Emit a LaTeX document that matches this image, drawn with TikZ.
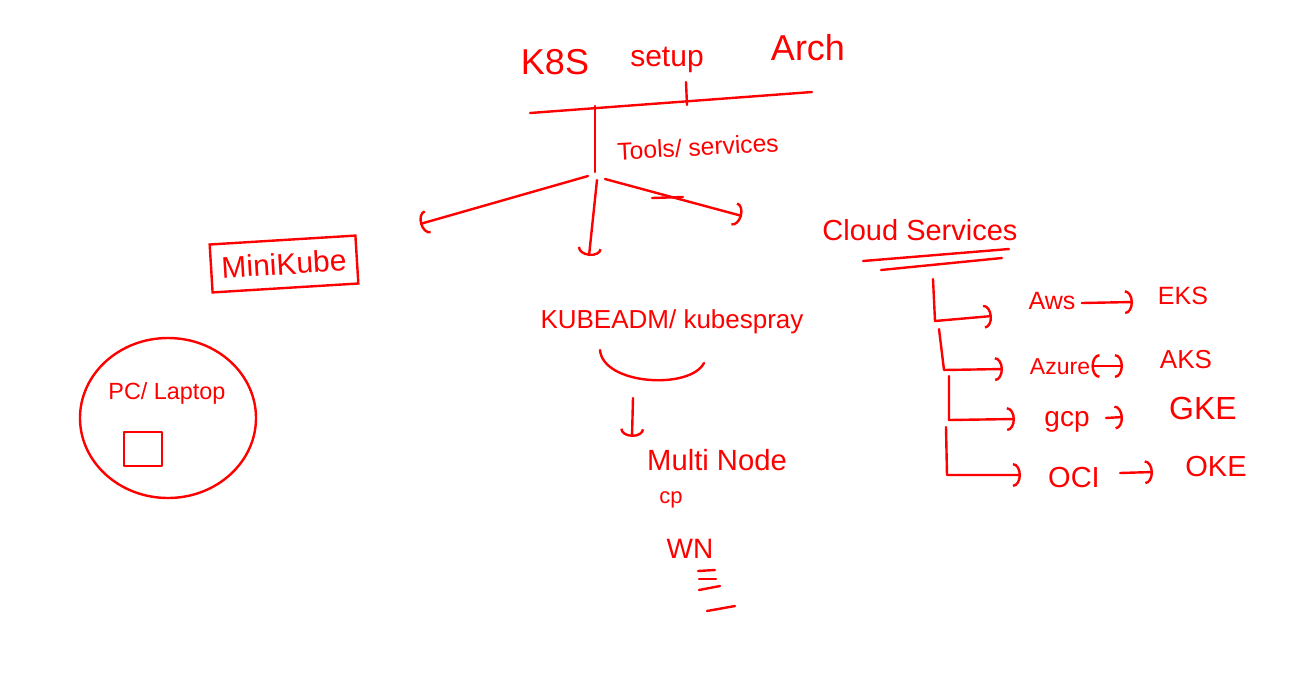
\documentclass[tikz,border=0pt]{standalone}
\usepackage{fontspec}
\setmainfont{Liberation Sans}
\usetikzlibrary{arrows.meta,shapes.geometric}
\definecolor{ink}{RGB}{255,0,0}
\tikzset{
  pen/.style={draw=ink, line width=1.2pt, line cap=round, line join=round},
  txt/.style={text=ink, inner sep=0pt, anchor=center},
  barb/.tip={Arc Barb[length=4pt, width=12pt, line width=1.2pt]},
  hook/.style={-barb},
}
\newcommand{\fs}[1]{\fontsize{#1}{#1}\selectfont}
\begin{document}
\begin{tikzpicture}[x=0.5pt, y=-0.5pt]
\useasboundingbox (0,0) rectangle (1298,681);
\fill[white] (0,0) rectangle (1298,681);

% title
\node[txt, font=\fs{18}] (k8s) at (555,62) {K8S};
\node[txt, font=\fs{15}] (setup) at (667,60) {setup};
\node[txt, font=\fs{18}] (arch) at (808,48) {Arch};
\coordinate (tl) at (530,113);
\coordinate (tr) at (812,92);
\draw[pen] (tl) -- (tr);
\coordinate (pa) at (686,82);
\coordinate (pb) at (687,105);
\draw[pen] (pa) -- (pb);

% trunk
\coordinate (trunkTop) at (595,106);
\coordinate (trunkBot) at (595,172);
\draw[pen] (trunkTop) -- (trunkBot);
\node[txt, font=\fs{12.3}, rotate=3] (tools) at (698,147) {Tools/ services};

% branches
\coordinate (bl0) at (588,176);
\coordinate (bl1) at (420,224);
\draw[pen, hook] (bl0) -- (bl1);
\coordinate (bd0) at (597,180);
\coordinate (bd1) at (589,256);
\draw[pen, hook] (bd0) -- (bd1);
\coordinate (br0) at (605,179);
\coordinate (br1) at (742,216);
\draw[pen, hook] (br0) -- (br1);
\coordinate (da) at (652,198);
\coordinate (db) at (683,197);
\draw[pen] (da) -- (db);

% minikube
\node[txt, font=\fs{15}, draw=ink, line width=1.2pt, minimum width=73pt, minimum height=24pt, rotate=3.5] (mini) at (284,264) {MiniKube};

% pc / laptop
\node[pen, ellipse, minimum width=88pt, minimum height=80pt] (pc) at (168,418) {};
\node[txt, font=\fs{11.7}] (pclbl) at (167,393) {PC/ Laptop};
\node[pen, minimum width=19pt, minimum height=17pt, inner sep=0pt] (sq) at (143,449) {};

% kubeadm
\node[txt, font=\fs{13}] (kadm) at (672,322) {KUBEADM/ kubespray};
\coordinate (b0) at (600,350);
\coordinate (b1) at (704,363);
\draw[pen] (b0) .. controls (603,385) and (690,390) .. (b1);
\coordinate (ma) at (633,398);
\coordinate (mb) at (632,437);
\draw[pen, hook] (ma) -- (mb);
\node[txt, font=\fs{14.6}] (multi) at (717,460) {Multi Node};
\node[txt, font=\fs{11}] (cp) at (671,500) {cp};
\node[txt, font=\fs{14}] (wn) at (690,549) {WN};
\coordinate (w1a) at (698,571); \coordinate (w1b) at (715,570);
\coordinate (w2a) at (699,579); \coordinate (w2b) at (716,579);
\coordinate (w3a) at (699,590); \coordinate (w3b) at (720,586);
\coordinate (w4a) at (707,611); \coordinate (w4b) at (735,606);
\draw[pen] (w1a) -- (w1b);
\draw[pen] (w2a) -- (w2b);
\draw[pen] (w3a) -- (w3b);
\draw[pen] (w4a) -- (w4b);

% cloud services
\node[txt, font=\fs{14.5}] (cloud) at (920,230) {Cloud Services};
\coordinate (u1a) at (863,261); \coordinate (u1b) at (1009,249);
\coordinate (u2a) at (881,270); \coordinate (u2b) at (1002,258);
\draw[pen] (u1a) -- (u1b);
\draw[pen] (u2a) -- (u2b);

\node[txt, font=\fs{12.5}] (aws) at (1052,301) {Aws};
\node[txt, font=\fs{12.5}] (eks) at (1183,296) {EKS};
\node[txt, font=\fs{11.5}] (azure) at (1060,367) {Azure};
\node[txt, font=\fs{13}] (aks) at (1186,360) {AKS};
\node[txt, font=\fs{14}] (gcp) at (1067,422) {gcp};
\node[txt, font=\fs{16}] (gke) at (1203,408) {GKE};
\node[txt, font=\fs{14.5}] (oci) at (1074,478) {OCI};
\node[txt, font=\fs{14.5}] (oke) at (1216,467) {OKE};

\coordinate (c1a) at (933,279); \coordinate (c1b) at (935,321); \coordinate (c1c) at (992,316);
\coordinate (c2a) at (939,329); \coordinate (c2b) at (944,370); \coordinate (c2c) at (1003,369);
\coordinate (c3a) at (949,376); \coordinate (c3b) at (949,420); \coordinate (c3c) at (1015,419);
\coordinate (c4a) at (946,427); \coordinate (c4b) at (947,475); \coordinate (c4c) at (1021,475);
\draw[pen, hook] (c1a) -- (c1b) -- (c1c);
\draw[pen, hook] (c2a) -- (c2b) -- (c2c);
\draw[pen, hook] (c3a) -- (c3b) -- (c3c);
\draw[pen, hook] (c4a) -- (c4b) -- (c4c);

\draw[pen, hook] (aws.east) ++(6,2) coordinate (a1) -- (1133,302) coordinate (a2);
\draw[pen, barb-barb] (azure.east) ++(1,-1) coordinate (z1) -- (1123,366) coordinate (z2);
\draw[pen, hook] (gcp.east) ++(16,-4) coordinate (g1) -- (1123,417) coordinate (g2);
\draw[pen, hook] (oci.east) ++(20,-5) coordinate (o1) -- (1153,472) coordinate (o2);
\end{tikzpicture}
\end{document}
